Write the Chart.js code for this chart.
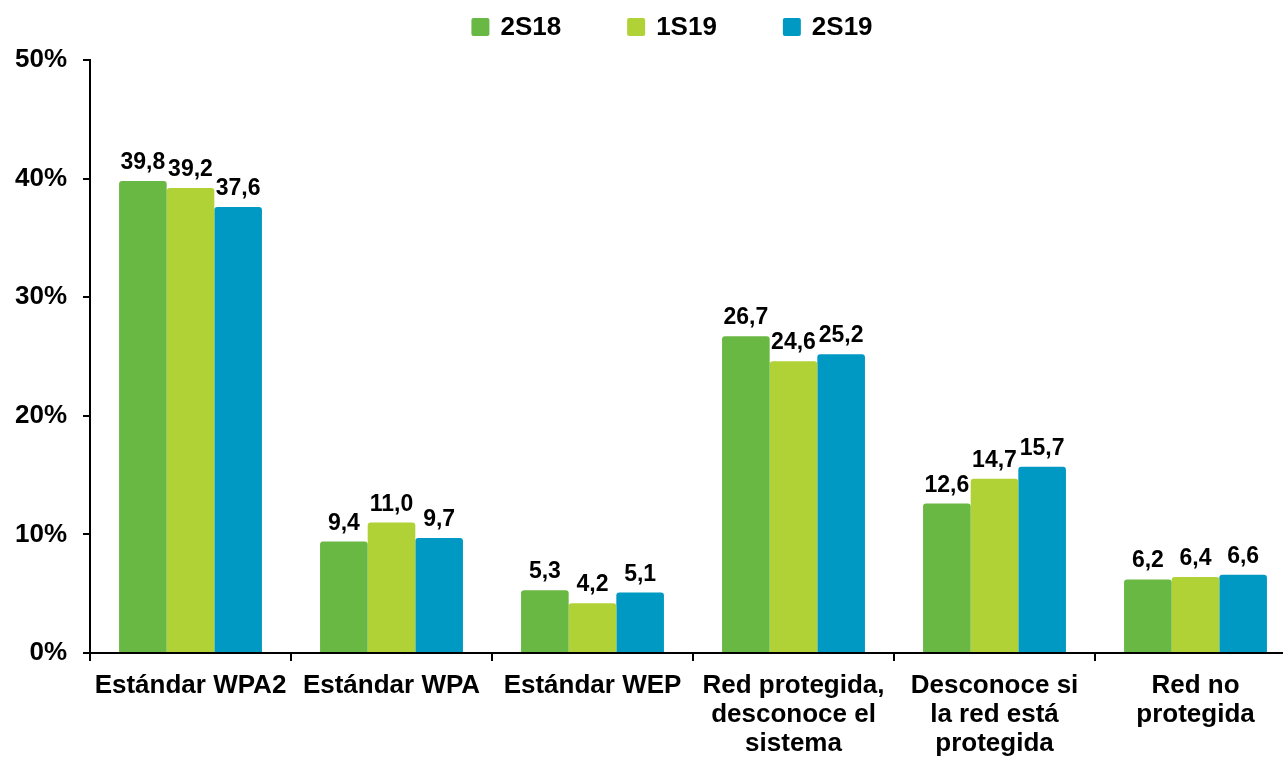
<!DOCTYPE html>
<html lang="es">
<head>
    <meta charset="UTF-8">
    <title>Tipo de red wifi</title>
    <script src="https://cdn.jsdelivr.net/npm/chart.js"></script>
    <style>
        html, body {
            margin: 0;
            padding: 0;
            background: #fff;
            overflow: hidden;
        }
        #chart {
            display: block;
        }
    </style>
</head>
<body>
    <canvas id="chart" width="1300" height="758"></canvas>

    <script>
        // data
        const categories = [
            'Estándar WPA2',
            'Estándar WPA',
            'Estándar WEP',
            ['Red protegida,', 'desconoce el', 'sistema'],
            ['Desconoce si', 'la red está', 'protegida'],
            ['Red no', 'protegida']
        ];
        const seriesNames = ['2S18', '1S19', '2S19'];
        const values2S18 = [39.8, 9.4, 5.3, 26.7, 12.6, 6.2];
        const values1S19 = [39.2, 11.0, 4.2, 24.6, 14.7, 6.4];
        const values2S19 = [37.6, 9.7, 5.1, 25.2, 15.7, 6.6];
        const yTicks = [0, 10, 20, 30, 40, 50];

        const colors = ['#69b843', '#b1d236', '#0099c3'];
        const fontFamily = '"Liberation Sans", Arial, sans-serif';

        // value labels on top of each bar
        const barLabels = {
            id: 'barLabels',
            afterDatasetsDraw(chart) {
                const ctx = chart.ctx;
                ctx.save();
                ctx.fillStyle = '#000';
                ctx.font = 'bold 23px ' + fontFamily;
                ctx.textAlign = 'center';
                ctx.textBaseline = 'alphabetic';
                chart.data.datasets.forEach((ds, i) => {
                    chart.getDatasetMeta(i).data.forEach((bar, j) => {
                        const txt = ds.data[j].toFixed(1).replace('.', ',');
                        ctx.fillText(txt, bar.x, bar.y - 12);
                    });
                });
                ctx.restore();
            }
        };

        // legend drawn by hand so it can sit tight above the plot
        const topLegend = {
            id: 'topLegend',
            afterDraw(chart) {
                const ctx = chart.ctx;
                const box = 18, gap = 11, spacing = 66, centerX = 672, centerY = 27;
                ctx.save();
                ctx.font = 'bold 26px ' + fontFamily;
                ctx.textBaseline = 'middle';
                ctx.textAlign = 'left';
                const widths = seriesNames.map(n => box + gap + ctx.measureText(n).width);
                const total = widths.reduce((a, b) => a + b, 0) + spacing * (widths.length - 1);
                let x = centerX - total / 2;
                seriesNames.forEach((name, i) => {
                    ctx.fillStyle = colors[i];
                    ctx.beginPath();
                    ctx.roundRect(x, centerY - box / 2, box, box, 2);
                    ctx.fill();
                    ctx.fillStyle = '#000';
                    ctx.fillText(name, x + box + gap, centerY + 1);
                    x += widths[i] + spacing;
                });
                ctx.restore();
            }
        };

        const ctx = document.getElementById('chart').getContext('2d');
        new Chart(ctx, {
            type: 'bar',
            data: {
                labels: categories,
                datasets: [
                    { label: seriesNames[0], data: values2S18, backgroundColor: colors[0] },
                    { label: seriesNames[1], data: values1S19, backgroundColor: colors[1] },
                    { label: seriesNames[2], data: values2S19, backgroundColor: colors[2] }
                ]
            },
            options: {
                responsive: false,
                devicePixelRatio: 1,
                animation: false,
                layout: {
                    padding: { top: 60, right: 4, bottom: 0, left: 0 }
                },
                datasets: {
                    bar: {
                        categoryPercentage: 0.711,
                        barPercentage: 1.0,
                        borderRadius: { topLeft: 3, topRight: 3 },
                        borderSkipped: 'start'
                    }
                },
                plugins: {
                    legend: { display: false },
                    tooltip: { enabled: false }
                },
                scales: {
                    x: {
                        afterFit(scale) { scale.height = 105; },
                        grid: {
                            display: true,
                            drawOnChartArea: false,
                            drawTicks: true,
                            tickLength: 8,
                            color: '#000',
                            lineWidth: 2
                        },
                        border: { display: true, color: '#000', width: 2 },
                        ticks: {
                            color: '#000',
                            font: { family: fontFamily, size: 26, weight: 'bold', lineHeight: 1.115 },
                            padding: 10,
                            maxRotation: 0,
                            autoSkip: false
                        }
                    },
                    y: {
                        min: 0,
                        max: 50,
                        afterFit(scale) { scale.width = 90; },
                        afterBuildTicks(scale) { scale.ticks = yTicks.map(v => ({ value: v })); },
                        grid: {
                            display: true,
                            drawOnChartArea: false,
                            drawTicks: true,
                            tickLength: 7,
                            color: '#000',
                            lineWidth: 2
                        },
                        border: { display: true, color: '#000', width: 2 },
                        ticks: {
                            color: '#000',
                            font: { family: fontFamily, size: 26, weight: 'bold' },
                            padding: 16,
                            callback: v => v + '%'
                        }
                    }
                }
            },
            plugins: [barLabels, topLegend]
        });
    </script>
</body>
</html>
